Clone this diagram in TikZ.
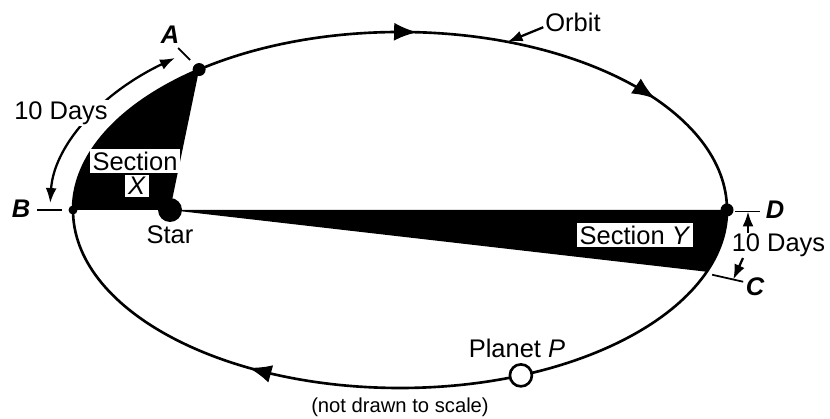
\documentclass[tikz,border=0pt]{standalone}
\usepackage{fontspec}
\setmainfont{Liberation Sans}
\usetikzlibrary{arrows.meta,calc}

\begin{document}
\begin{tikzpicture}[
  lbl/.style={font=\fontsize{14.5}{17}\selectfont, inner sep=1pt},
  ptlbl/.style={font=\fontsize{14.5}{17}\selectfont\bfseries\itshape, inner sep=1pt},
  secbox/.style={lbl, fill=white, inner sep=1.5pt},
  orbitline/.style={line width=1.5pt},
  tickline/.style={line width=1pt},
  tipline/.style={line width=1.3pt, -{Latex[length=0.3cm,width=0.22cm]}},
]
  \useasboundingbox (0,0) rectangle (16.6,8.38);
  \def\orbA{6.54} \def\orbB{3.56}
  \coordinate (O) at (8,4.18);
  \coordinate (A) at ($(O)+(127.9:\orbA cm and \orbB cm)$);
  \coordinate (B) at ($(O)+(180:\orbA cm and \orbB cm)$);
  \coordinate (C) at ($(O)+(-20.3:\orbA cm and \orbB cm)$);
  \coordinate (D) at ($(O)+(0:\orbA cm and \orbB cm)$);
  \coordinate (P) at ($(O)+(-68.3:\orbA cm and \orbB cm)$);
  \coordinate (orbpt) at ($(O)+(70.8:\orbA cm and \orbB cm)$);

  % sections swept in 10 days
  \node[circle, fill, minimum size=0.48cm, inner sep=0pt] (star) at (3.4,4.18) {};
  \fill (star.center) -- (A) arc[start angle=127.9, end angle=180, x radius=\orbA, y radius=\orbB] -- cycle;
  \fill (star.center) -- (D) arc[start angle=0, end angle=-20.3, x radius=\orbA, y radius=\orbB] -- cycle;

  % orbit with direction marks
  \draw[orbitline] (O) ellipse[x radius=\orbA, y radius=\orbB];
  \foreach \ang in {87,38.7,242.4}
    \draw[orbitline,-{Latex[length=0.46cm,width=0.36cm]}] ($(O)+(\ang+1.5:\orbA cm and \orbB cm)$) -- ($(O)+(\ang:\orbA cm and \orbB cm)$);

  \fill (A) circle(0.13);
  \fill (B) circle(0.09);
  \fill (D) circle(0.13);
  \node[circle, draw, orbitline, fill=white, minimum size=0.44cm, inner sep=0pt] (planet) at (P) {};

  % ticks
  \draw[tickline] ($(A)+(-0.42,0.43)$) -- ($(A)+(-0.18,0.19)$);
  \draw[tickline] ($(B)+(-0.72,0)$) -- ($(B)+(-0.22,0)$);
  \draw[tickline] ($(D)+(0.16,-0.03)$) coordinate (Dtk1) -- ($(D)+(0.66,-0.03)$) coordinate (Dtk2);
  \draw[tickline] ($(C)+(0.11,-0.06)$) coordinate (Ctk1) -- ($(C)+(0.73,-0.2)$) coordinate (Ctk2);

  % labels
  \node[ptlbl] (lblA) at (3.4,7.68) {A};
  \node[ptlbl] (lblB) at (0.42,4.2) {B};
  \node[ptlbl] (lblC) at (15.1,2.64) {C};
  \node[ptlbl] (lblD) at (15.5,4.18) {D};
  \node[lbl] (lblstar) at (3.4,3.68) {Star};
  \node[lbl] (lblplanet) at (10.34,1.42) {Planet \textit{P}};
  \node[lbl] (lblorbit) at (11.46,7.94) {Orbit};
  \node[lbl, font=\fontsize{11.5}{13}\selectfont] (lblscale) at (8,0.24) {(not drawn to scale)};
  \node[secbox] (secX) at (2.7,5.16) {Section};
  \node[secbox] (secXb) at (2.74,4.66) {\textit{X}};
  \node[secbox] (secY) at (12.7,3.68) {Section \textit{Y}};

  \draw[tipline] (lblorbit.190) -- (orbpt);

  % 10 days, A to B
  \draw[tipline, {Latex[length=0.3cm,width=0.22cm]}-{Latex[length=0.3cm,width=0.22cm]}]
    ($(O)+(178:7.0cm and 3.97cm)$) arc[start angle=178, end angle=130, x radius=7.0, y radius=3.97];
  \node[lbl, fill=white] (days1) at (1.22,6.12) {10 Days};

  % 10 days, C to D
  \node[lbl] (days2) at (15.57,3.48) {10 Days};
  \coordinate (dup) at (14.96,3.72);
  \coordinate (ddown) at (14.86,3.22);
  \draw[tipline] (dup) -- (dup |- Dtk1);
  \draw[tipline] (ddown) -- ($(Ctk1)!0.68!(Ctk2)$);
\end{tikzpicture}
\end{document}
